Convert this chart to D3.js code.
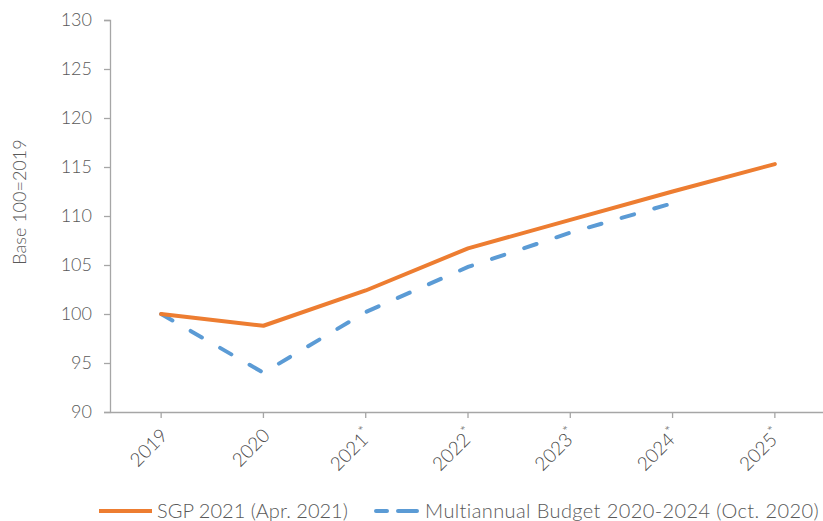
<!DOCTYPE html>
<html>
<head>
<meta charset="utf-8">
<script src="https://cdn.jsdelivr.net/npm/d3@7"></script>
<style>
  body { margin: 0; background: #fff; }
  svg text { font-family: Lato, "Open Sans", sans-serif; font-weight: 300; fill: #595959; }
</style>
</head>
<body>
<svg id="chart"></svg>
<script>
// chart data
const years = ["2019", "2020", "2021", "2022", "2023", "2024", "2025"];
const starred = [false, false, true, true, true, true, true];
const sgpValues = [100, 98.8, 102.4, 106.7, 109.6, 112.5, 115.3];
const budgetValues = [100, 94.0, 100.2, 104.8, 108.3, 111.3, null];
const yTicks = [90, 95, 100, 105, 110, 115, 120, 125, 130];
const seriesNames = ["SGP 2021 (Apr. 2021)", "Multiannual Budget 2020-2024 (Oct. 2020)"];

const width = 823, height = 521;
const margin = { top: 20, right: -3, bottom: 109, left: 110 };

const svg = d3.select("#chart").attr("width", width).attr("height", height);

const x = d3.scaleBand().domain(years).range([margin.left, width - margin.right]);
const y = d3.scaleLinear().domain([90, 130]).range([height - margin.bottom, margin.top]);
const xc = d => x(d) + x.bandwidth() / 2;

const axisColor = "#a6a6a6";

// y axis
const yAxis = svg.append("g")
  .attr("transform", `translate(${margin.left},0)`)
  .call(d3.axisLeft(y).tickValues(yTicks).tickSize(6).tickPadding(12));
yAxis.select(".domain").attr("stroke", axisColor).attr("stroke-width", 1.3);
yAxis.selectAll(".tick line").attr("stroke", axisColor).attr("stroke-width", 1.3);
yAxis.selectAll(".tick text").attr("font-size", 18).attr("fill", "#595959")
  .style("font-family", "Lato, sans-serif").style("font-weight", 300);

// x axis
const xAxis = svg.append("g")
  .attr("transform", `translate(0,${height - margin.bottom})`)
  .call(d3.axisBottom(x).tickSize(6).tickSizeOuter(0).tickFormat(""));
xAxis.select(".domain").attr("stroke", axisColor).attr("stroke-width", 1.3);
xAxis.selectAll(".tick line").attr("stroke", axisColor).attr("stroke-width", 1.3);

// rotated x labels
const xl = svg.append("g").selectAll("text")
  .data(years)
  .join("text")
  .attr("transform", d => `translate(${xc(d) + 3},${height - margin.bottom + 20}) rotate(-45)`)
  .attr("text-anchor", "end")
  .attr("dy", "0.35em")
  .attr("font-size", 19)
  .style("fill", "#4a4a4a");
xl.append("tspan").text(d => d);
xl.filter((d, i) => starred[i]).append("tspan")
  .attr("font-size", 14).attr("dy", "-0.5em").text("*");

// y axis title
svg.append("text")
  .attr("transform", `translate(20,202) rotate(-90)`)
  .attr("text-anchor", "middle")
  .attr("dy", "0.35em")
  .attr("font-size", 18)
  .text("Base 100=2019");

// lines
const line = d3.line()
  .defined(d => d.v != null)
  .x(d => xc(d.year))
  .y(d => y(d.v));

svg.append("path")
  .datum(years.map((yr, i) => ({ year: yr, v: budgetValues[i] })))
  .attr("d", line)
  .attr("fill", "none")
  .attr("stroke", "#5B9BD5")
  .attr("stroke-width", 4)
  .attr("stroke-linecap", "round")
  .attr("stroke-dasharray", "13,21");

svg.append("path")
  .datum(years.map((yr, i) => ({ year: yr, v: sgpValues[i] })))
  .attr("d", line)
  .attr("fill", "none")
  .attr("stroke", "#ED7D31")
  .attr("stroke-width", 4)
  .attr("stroke-linecap", "round")
  .attr("stroke-linejoin", "round");

// legend
const leg = svg.append("g").attr("transform", "translate(0,511)");
leg.append("line").attr("x1", 99).attr("x2", 152).attr("y1", 0).attr("y2", 0)
  .attr("stroke", "#ED7D31").attr("stroke-width", 4);
leg.append("text").attr("x", 157).attr("y", 0).attr("dy", "0.35em")
  .attr("font-size", 20).text(seriesNames[0]);
leg.append("line").attr("x1", 376).attr("x2", 417).attr("y1", 0).attr("y2", 0)
  .attr("stroke", "#5B9BD5").attr("stroke-width", 4)
  .attr("stroke-linecap", "round").attr("stroke-dasharray", "11,11,19");
leg.append("text").attr("x", 425).attr("y", 0).attr("dy", "0.35em")
  .attr("font-size", 20).attr("letter-spacing", 0.4).text(seriesNames[1]);
</script>
</body>
</html>
